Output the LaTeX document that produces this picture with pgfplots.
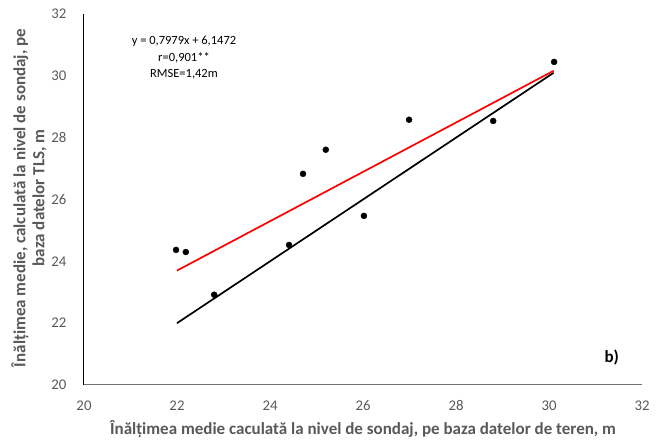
\documentclass[border=0pt]{standalone}
\usepackage{fontspec}
\setmainfont{Carlito}
\usepackage{pgfplots}
\pgfplotsset{compat=1.18}
\definecolor{txtgray}{HTML}{595959}
\begin{document}
\begin{tikzpicture}[x=1pt,y=1pt]
\path (0,0) rectangle (664,441);
\begin{axis}[
  at={(84pt,56pt)}, anchor=south west,
  scale only axis, width=558pt, height=371pt,
  xmin=20, xmax=32, ymin=20, ymax=32,
  xtick={20,22,...,32}, ytick={20,22,...,32},
  axis x line*=bottom, axis y line*=left,
  x axis line style={black!55, line width=1pt, -},
  y axis line style={black, line width=1pt, -},
  major tick length=0pt,
  tick label style={font=\fontsize{14.8}{17}\selectfont, text=txtgray},
  /pgf/number format/assume math mode=true,
  xticklabel style={anchor=center, yshift=-21pt},
  yticklabel style={anchor=east, xshift=-14pt},
  xlabel={\bfseries Înălțimea medie caculată la nivel de sondaj, pe baza datelor de teren, m},
  label style={font=\fontsize{17}{20}\selectfont, text=txtgray},
  xlabel style={at={(axis description cs:0.5,-0.1186)}, anchor=center},
  clip=false,
]
% 1:1 reference line
\addplot[black, line width=1.7pt] coordinates {(22,22) (30.1,30.1)};
% fitted regression line
\addplot[red, line width=1.7pt] coordinates {(22,23.7010) (30.1,30.1640)};
% observed plot means
\addplot[only marks, mark=*, mark size=3pt, black] coordinates {
  (21.98,24.37) (22.19,24.30) (22.80,22.92) (24.41,24.53) (24.71,26.83)
  (25.20,27.61) (26.02,25.47) (26.99,28.58) (28.80,28.54) (30.11,30.45)
};
\node[font=\fontsize{12.5}{16.5}\selectfont, align=center, anchor=center]
  at (axis cs:22.15,30.58) {y = 0,7979x + 6,1472\\r=0,901**\\RMSE=1,42m};
\node[font=\bfseries\fontsize{17}{20}\selectfont] at (axis cs:31.35,20.9) {b)};
\end{axis}
% vertical axis title
\node[rotate=90, anchor=center, align=center, text=txtgray,
      font=\bfseries\fontsize{17}{19}\selectfont]
  at (29,243)
  {Înălțimea medie, calculată la nivel de sondaj, pe\\baza datelor TLS, m};
\end{tikzpicture}
\end{document}
